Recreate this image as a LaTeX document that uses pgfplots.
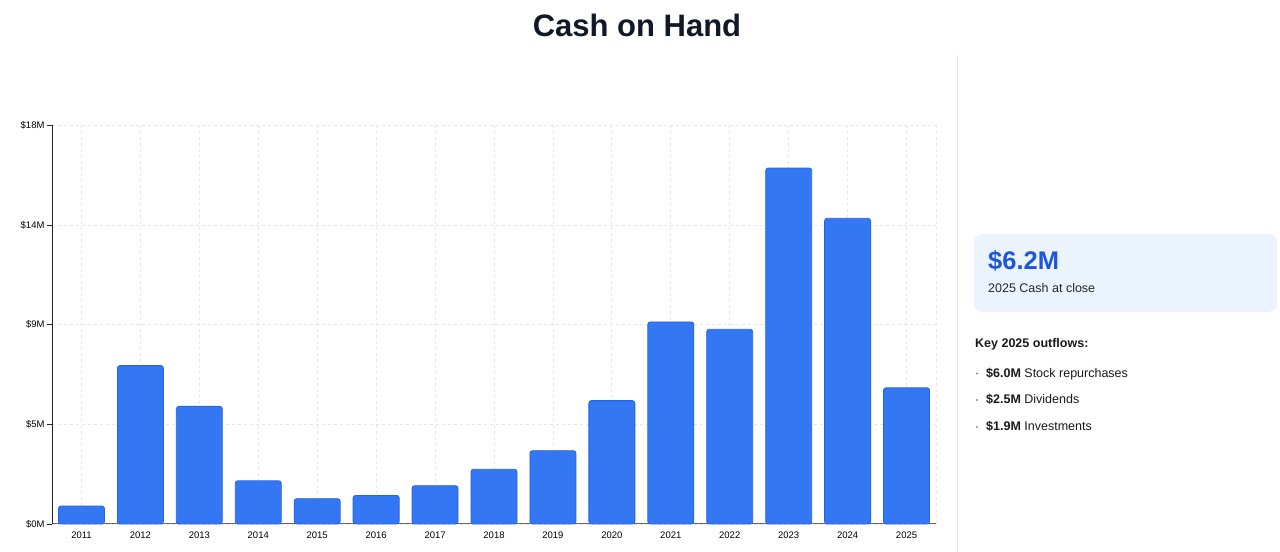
\documentclass[border=0pt]{standalone}
\usepackage{fontspec}
\setmainfont{Liberation Sans}
\usepackage{pgfplots}
\pgfplotsset{compat=1.18}
\definecolor{barblue}{HTML}{3377F2}
\definecolor{baredge}{HTML}{2563EB}
\definecolor{gridgray}{HTML}{E6E6E6}
\definecolor{titlecol}{HTML}{111827}
\definecolor{bigblue}{HTML}{1D56DB}
\definecolor{cardfill}{HTML}{EBF3FE}
\definecolor{divider}{HTML}{E8E8EA}
\begin{document}
\begin{tikzpicture}[x=1bp,y=1bp]
\useasboundingbox (0,0) rectangle (1280,552);
\fill[white] (0,0) rectangle (1280,552);
% title
\node[anchor=base, text=titlecol, font=\fontsize{31bp}{36bp}\selectfont\bfseries] at (637,552-37) {Cash on Hand};
% divider
\draw[divider, line width=1bp] (957,0) -- (957,552-55);
\begin{axis}[
  at={(52bp,28bp)}, anchor=south west,
  scale only axis, width=884bp, height=398.7bp,
  xmin=-0.5, xmax=14.5, ymin=0, ymax=18,
  axis x line*=bottom, axis y line*=left,
  x axis line style={draw=black!60, line width=1bp},
  y axis line style={draw=black!85, line width=1bp},
  xtick={0,...,14},
  xticklabels={2011,2012,2013,2014,2015,2016,2017,2018,2019,2020,2021,2022,2023,2024,2025},
  ytick={0,4.5,9,13.5,18},
  yticklabels={\$0M,\$5M,\$9M,\$14M,\$18M},
  xtick style={draw=none},
  ytick style={draw=black!85, line width=0.8bp},
  tick align=outside, major tick length=5bp,
  xticklabel style={font=\fontsize{9.5bp}{11bp}\selectfont, yshift=1bp},
  yticklabel style={font=\fontsize{9.5bp}{11bp}\selectfont, xshift=1bp},
  /pgf/number format/assume math mode=true,
  grid=major,
  major grid style={draw=gridgray, dashed, dash pattern=on 3bp off 3bp, line width=0.8bp},
  axis on top=false,
  clip=false,
]
\draw[gridgray, dash pattern=on 3bp off 3bp, line width=0.8bp] (axis cs:14.5,0) -- (axis cs:14.5,18);
\addplot[ybar, bar width=46bp, fill=barblue, draw=baredge, line width=0.8bp, rounded corners=2.5bp] coordinates {
(0,0.81) (1,7.15) (2,5.31) (3,1.95) (4,1.14) (5,1.29) (6,1.73) (7,2.47) (8,3.31) (9,5.57) (10,9.12) (11,8.79) (12,16.07) (13,13.8) (14,6.15)
};
\end{axis}
% right panel card
\fill[cardfill, rounded corners=8bp] (974,552-312) rectangle (1277,552-234);
\node[anchor=base west, inner sep=0, text=bigblue, font=\fontsize{25.5bp}{30bp}\selectfont\bfseries] at (988,552-270) {\$6.2M};
\node[anchor=base west, inner sep=0, text=black!85, font=\fontsize{12.5bp}{15bp}\selectfont] at (988,552-293) {2025 Cash at close};
\node[anchor=base west, inner sep=0, text=black!90, font=\fontsize{12.5bp}{15bp}\selectfont\bfseries] at (975,552-347.5) {Key 2025 outflows:};
\foreach \yy/\val/\lab in {377.5/6.0/Stock repurchases, 404/2.5/Dividends, 431/1.9/Investments}{
  \fill[black!45] (977,552-\yy+4) circle (1.1bp);
  \node[anchor=base west, inner sep=0, text=black!90, font=\fontsize{12.5bp}{15bp}\selectfont] at (986,552-\yy) {\textbf{\$\val M} \lab};
}
\end{tikzpicture}
\end{document}
